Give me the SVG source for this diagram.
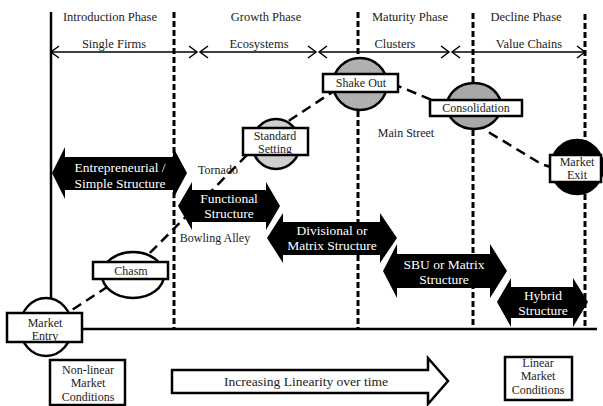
<svg xmlns="http://www.w3.org/2000/svg" width="603" height="406" viewBox="0 0 603 406">
<defs>
<style>
text{fill:#222;text-anchor:middle}
.lbl{font-size:12.5px}
.nt{font-size:12px}
.wt{font-size:13.5px;fill:#fff}
.box{fill:#fff;stroke:#000;stroke-width:2.5}
.circ{stroke:#000;stroke-width:2.5}
.vd{stroke:#000;stroke-width:3;stroke-dasharray:6,3;fill:none}
.solid{stroke:#000;stroke-width:2.5;fill:none}
.harr{stroke:#000;stroke-width:1.5;fill:none}
.blk{fill:#000}
.curve{stroke:#000;stroke-width:2.5;stroke-dasharray:10,6;fill:none}
</style>
</defs>
<rect width="603" height="406" fill="#fff"/>
<g font-family="'Liberation Serif', serif">
<g id="axes">
<line class="solid" x1="51" y1="12" x2="51" y2="300"/>
<line class="solid" x1="82" y1="329" x2="597" y2="329"/>
<line class="vd" x1="174" y1="12" x2="174" y2="328"/>
<line class="vd" x1="358" y1="12" x2="358" y2="328"/>
<line class="vd" x1="473" y1="13" x2="473" y2="328"/>
<line class="vd" x1="585" y1="14" x2="585" y2="330"/>
</g>

<g id="phases">
<text class="lbl" x="110" y="21">Introduction Phase</text>
<text class="lbl" x="266" y="21">Growth Phase</text>
<text class="lbl" x="410" y="21">Maturity Phase</text>
<text class="lbl" x="526" y="21">Decline Phase</text>
<text class="lbl" x="114" y="48">Single Firms</text>
<text class="lbl" x="259" y="48">Ecosystems</text>
<text class="lbl" x="395" y="48">Clusters</text>
<text class="lbl" x="529" y="48">Value Chains</text>
</g>

<g id="connectors">
<g class="harr">
<line x1="51" y1="52" x2="197" y2="52"/><polyline points="59,46 51,52 59,58"/><polyline points="189,46 197,52 189,58"/>
<line x1="200" y1="52" x2="316" y2="52"/><polyline points="208,46 200,52 208,58"/><polyline points="308,46 316,52 308,58"/>
<line x1="319" y1="52" x2="449" y2="52"/><polyline points="327,46 319,52 327,58"/><polyline points="441,46 449,52 441,58"/>
<line x1="452" y1="52" x2="585" y2="52"/><polyline points="460,46 452,52 460,58"/><polyline points="577,46 585,52 577,58"/>
</g>
<path class="curve" d="M46,327 L133,270 L250,152 L290,120 L334,91 L398,86 L432,100 L474,112 L490,133 L538,162 Q546,167 556,167"/>
</g>

<g id="labels">
<text class="nt" x="218" y="174">Tornado</text>
<text class="nt" x="215" y="242">Bowling Alley</text>
<text class="nt" x="406" y="137">Main Street</text>
</g>

<g id="entrepreneurial">
<path class="blk" d="M52,173 L65,147 L65,157 L173,157 L173,147 L187,173 L173,199 L173,190 L65,190 L65,199 Z"/>
<text class="wt" x="120" y="172">Entrepreneurial /</text>
<text class="wt" x="120" y="188">Simple Structure</text>
</g>
<g id="functional">
<path class="blk" d="M178,206 L192,182 L192,190 L266,190 L266,182 L280,206 L266,230 L266,222 L192,222 L192,230 Z"/>
<text class="wt" x="229" y="203">Functional</text>
<text class="wt" x="229" y="218">Structure</text>
</g>
<g id="divisional">
<path class="blk" d="M267,238 L283,213 L283,222 L380,222 L380,213 L397,238 L380,263 L380,255 L283,255 L283,263 Z"/>
<text class="wt" x="332" y="235">Divisional or</text>
<text class="wt" x="332" y="250">Matrix Structure</text>
</g>
<g id="sbu">
<path class="blk" d="M383,271 L397,244 L397,254 L490,254 L490,244 L507,271 L490,298 L490,288 L397,288 L397,298 Z"/>
<text class="wt" x="444" y="269">SBU or Matrix</text>
<text class="wt" x="444" y="284">Structure</text>
</g>
<g id="hybrid">
<path class="blk" d="M497,302 L511,278 L511,287 L573,287 L573,278 L588,302 L573,327 L573,318 L511,318 L511,327 Z"/>
<text class="wt" x="543" y="300">Hybrid</text>
<text class="wt" x="543" y="315">Structure</text>
</g>

<g id="market-entry">
<ellipse class="circ" cx="46" cy="327" rx="26" ry="29" fill="#fff"/>
<rect class="box" x="7" y="313" width="75" height="29"/>
<text class="nt" x="45" y="327">Market</text>
<text class="nt" x="45" y="340">Entry</text>
</g>
<g id="chasm">
<ellipse class="circ" cx="133" cy="275" rx="31" ry="23" fill="#fff"/>
<rect class="box" x="93" y="262" width="75" height="17"/>
<text class="nt" x="131" y="275">Chasm</text>
</g>
<g id="standard-setting">
<ellipse class="circ" cx="276" cy="144" rx="24" ry="25" fill="#cfcfcf"/>
<rect class="box" x="243" y="128" width="65" height="27"/>
<text class="nt" x="275" y="140">Standard</text>
<text class="nt" x="275" y="153">Setting</text>
</g>
<g id="shake-out">
<ellipse class="circ" cx="360" cy="84" rx="27" ry="26" fill="#b0b0b0"/>
<rect class="box" x="323" y="74" width="75" height="18"/>
<text class="nt" x="361" y="87">Shake Out</text>
</g>
<g id="consolidation">
<ellipse class="circ" cx="474" cy="106" rx="27" ry="23" fill="#a8a8a8"/>
<rect class="box" x="430" y="100" width="92" height="16"/>
<text class="nt" x="476" y="112">Consolidation</text>
</g>
<g id="market-exit">
<ellipse class="circ" cx="577" cy="167" rx="26" ry="27" fill="#000"/>
<rect class="box" x="550" y="155" width="51" height="27"/>
<text class="nt" x="577" y="166">Market</text>
<text class="nt" x="577" y="179">Exit</text>
</g>

<g id="linearity-arrow">
<path d="M172,370 L428,370 L428,358 L448,381 L428,404 L428,393 L172,393 Z" fill="#fff" stroke="#000" stroke-width="2.5" stroke-linejoin="miter"/>
<text x="306" y="386" font-size="13.5">Increasing Linearity over time</text>
</g>
<g id="non-linear">
<rect class="box" x="50" y="360" width="75" height="45"/>
<text class="nt" x="88" y="374">Non-linear</text>
<text class="nt" x="88" y="387">Market</text>
<text class="nt" x="88" y="401">Conditions</text>
</g>
<g id="linear">
<rect class="box" x="505" y="357" width="67" height="43"/>
<text class="nt" x="538" y="367">Linear</text>
<text class="nt" x="538" y="380">Market</text>
<text class="nt" x="538" y="394">Conditions</text>
</g>
</g>
</svg>
